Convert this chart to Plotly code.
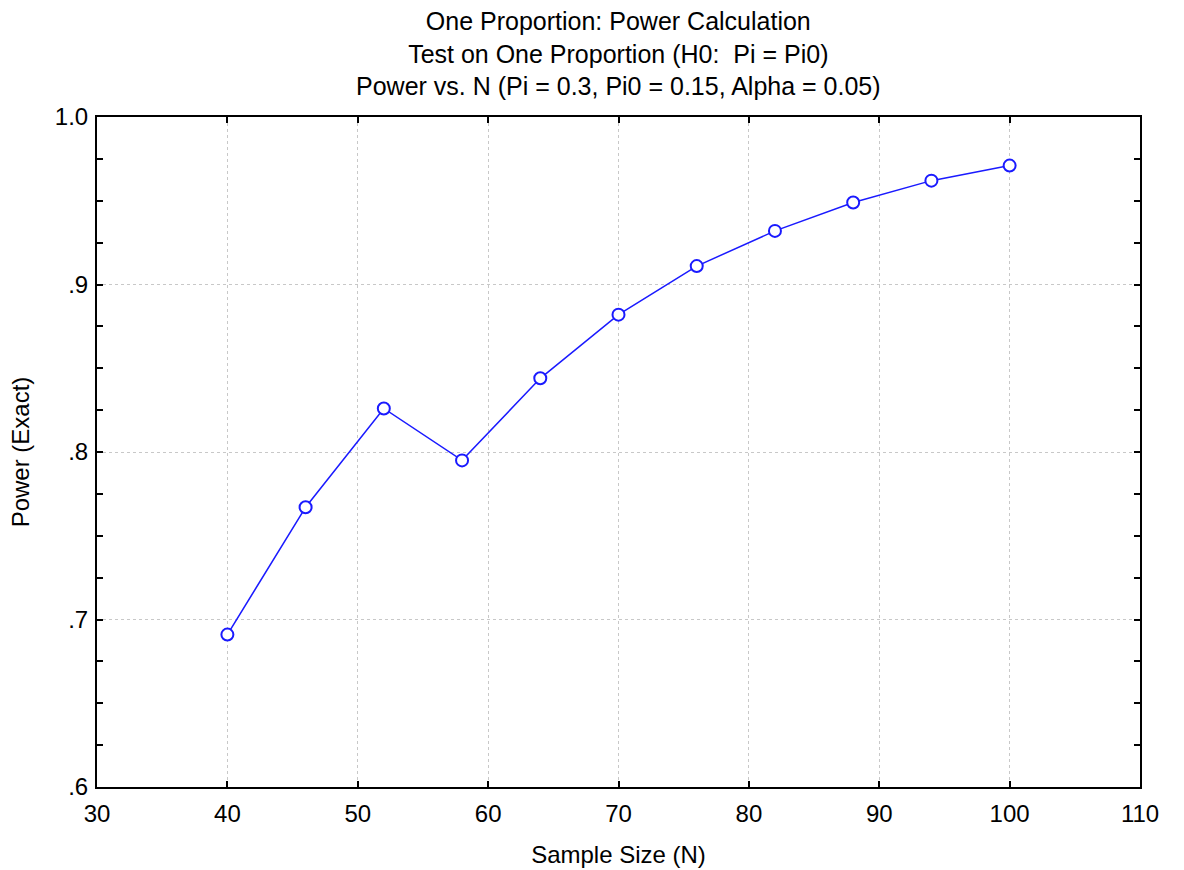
import plotly.graph_objects as go

n_values = [40, 46, 52, 58, 64, 70, 76, 82, 88, 94, 100]
power_values = [0.691, 0.767, 0.826, 0.795, 0.844, 0.882, 0.911, 0.932, 0.949, 0.962, 0.971]

x_ticks = [30, 40, 50, 60, 70, 80, 90, 100, 110]
y_ticks = [0.6, 0.7, 0.8, 0.9, 1.0]
y_tick_labels = [".6", ".7", ".8", ".9", "1.0"]

title_lines = [
    "One Proportion: Power Calculation",
    "Test on One Proportion (H0:  Pi = Pi0)",
    "Power vs. N (Pi = 0.3, Pi0 = 0.15, Alpha = 0.05)",
]

FONT = "Liberation Sans, Arial, sans-serif"
FS = 24

fig = go.Figure()
fig.add_trace(go.Scatter(
    x=n_values, y=power_values, mode="lines+markers",
    line=dict(color="#1a1aff", width=1.5),
    marker=dict(symbol="circle", size=12, color="white", line=dict(width=2, color="#1a1aff")),
    showlegend=False,
))

fig.add_annotation(
    text="<br>".join(title_lines), xref="paper", yref="paper", x=0.5, y=1,
    xanchor="center", yanchor="bottom", yshift=15, showarrow=False,
    font=dict(size=25, family=FONT, color="black"), align="center",
)

fig.update_layout(
    width=1184, height=870,
    margin=dict(l=97, r=44, t=117, b=83),
    paper_bgcolor="white", plot_bgcolor="white",
    font=dict(family=FONT, color="black", size=FS),
)

fig.update_xaxes(
    range=[30, 110], tickvals=x_ticks, ticks="inside", ticklen=6, tickwidth=2,
    tickcolor="black", showline=True, linecolor="black", linewidth=2, mirror="ticks",
    showgrid=True, gridcolor="#c8c8c8", griddash="dot", gridwidth=1,
    zeroline=False, tickfont=dict(size=FS), ticklabelstandoff=4, automargin=False,
    title=dict(text="Sample Size (N)", font=dict(size=FS), standoff=20),
)
fig.update_yaxes(
    range=[0.6, 1.0], tickvals=y_ticks, ticktext=y_tick_labels, ticks="inside",
    ticklen=6, tickwidth=2, tickcolor="black", showline=True, linecolor="black",
    linewidth=2, mirror="ticks", automargin=False,
    showgrid=True, gridcolor="#c8c8c8", griddash="dot", gridwidth=1,
    zeroline=False, tickfont=dict(size=FS), ticklabelstandoff=2,
    minor=dict(dtick=0.025, ticks="inside", ticklen=6, tickwidth=2, tickcolor="black", showgrid=False),
    title=dict(text="Power (Exact)", font=dict(size=FS), standoff=18),
)

fig.write_html("out.html", config={"displayModeBar": False},
               post_script="document.body.style.margin='0';")
